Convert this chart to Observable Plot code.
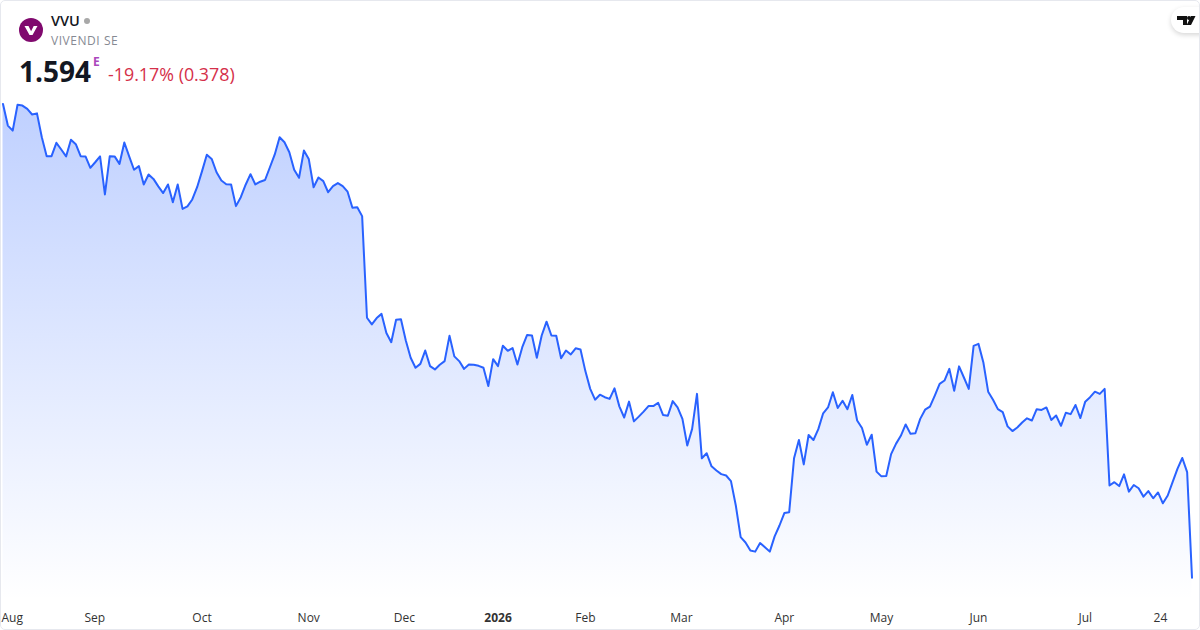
<!DOCTYPE html>
<html>
<head>
<meta charset="utf-8">
<script src="https://cdn.jsdelivr.net/npm/d3@7"></script>
<script src="https://cdn.jsdelivr.net/npm/@observablehq/plot@0.6"></script>
<style>
  html,body{margin:0;padding:0;background:#fff;}
  #card{position:relative;width:1200px;height:630px;box-sizing:border-box;overflow:hidden;font-family:"Open Sans","Noto Sans",sans-serif;}
  #card::after{content:"";position:absolute;inset:0;border:1px solid #e6e8ee;border-radius:5px;pointer-events:none;}
  #chart{position:absolute;left:0;top:0;}
  #chart svg{display:block;}
  .h{position:absolute;white-space:nowrap;line-height:1;}
  #ticker{left:51px;top:13.5px;font-size:14.5px;font-weight:600;color:#131722;}
  #dot{left:84px;top:17.5px;width:6px;height:6px;border-radius:50%;background:#a8a8a8;}
  #name{left:51px;top:34.5px;font-size:12px;color:#868993;letter-spacing:.55px;}
  #price{left:19px;top:57px;font-size:28px;font-weight:700;color:#131722;}
  #flag{left:93px;top:56px;font-size:12px;font-weight:700;color:#ab47bc;}
  #chg{left:108px;top:66px;font-size:17.85px;color:#d5304a;}
  #logo{position:absolute;left:19px;top:18px;}
  #pill{position:absolute;left:1171px;top:7px;width:50px;height:26px;border-radius:13px;background:#fff;box-shadow:0 2px 5px rgba(0,0,0,.16);}
  #tv{position:absolute;left:1177px;top:15px;}
</style>
</head>
<body>
<div id="card">
  <div id="chart"></div>
  <svg id="logo" width="24" height="24" viewBox="0 0 24 24"><circle cx="12" cy="12" r="12" fill="#80096e"/><path d="M5.5 8h4l2.6 5.2L14.700 8h3.800l-5 9h-3z" fill="#fff"/></svg>
  <div class="h" id="ticker">VVU</div>
  <div class="h" id="dot"></div>
  <div class="h" id="name">VIVENDI SE</div>
  <div class="h" id="price">1.594</div>
  <div class="h" id="flag">E</div>
  <div class="h" id="chg">-19.17% (0.378)</div>
  <div id="pill"></div>
  <svg id="tv" width="19" height="11" viewBox="0 0 19 11"><path d="M0 1h10v9H6V5H0zM14 1h4.500L14 10h-4.300z" fill="#111"/><circle cx="12" cy="3" r="2" fill="#111"/></svg>
</div>
<script>
const closes = [
3.300,3.222,3.204,3.297,3.294,3.282,3.262,3.266,3.180,3.112,3.112,3.160,3.136,3.111,3.171,3.155,3.112,3.111,3.070,3.090,
3.111,2.974,3.112,3.111,3.084,3.161,3.111,3.063,3.076,3.010,3.046,3.030,3.003,2.979,3.010,2.946,3.010,2.922,2.931,2.956,
3.000,3.057,3.117,3.102,3.054,3.024,3.011,3.010,2.932,2.964,3.009,3.047,3.010,3.020,3.026,3.072,3.118,3.180,3.162,3.126,
3.063,3.034,
3.132,3.102,3.000,3.035,3.022,2.982,3.004,3.015,3.004,2.984,2.926,2.928,2.896,2.530,2.506,2.529,2.544,2.475,2.442,2.523,
2.525,2.448,2.386,2.350,2.364,2.412,2.356,2.344,2.361,2.374,2.465,2.391,2.374,2.346,2.362,2.361,2.357,2.350,2.284,2.381,
2.356,2.429,2.411,2.421,2.362,2.424,2.468,2.466,2.386,2.466,2.516,2.466,2.465,2.384,2.412,2.398,2.420,2.416,2.338,2.274,
2.235,2.253,
2.244,2.238,2.276,2.211,2.171,2.228,2.157,2.174,2.192,2.212,2.212,2.224,2.180,2.177,2.230,2.207,2.166,2.070,2.130,2.256,
2.024,2.042,1.995,1.980,1.967,1.962,1.942,1.854,1.740,1.721,1.692,1.688,1.719,1.704,1.688,1.743,1.782,1.827,1.830,2.024,
2.090,2.002,2.108,2.090,2.129,2.186,2.207,2.262,2.205,2.231,2.201,2.252,2.160,2.133,2.073,2.109,1.976,1.959,1.960,2.039,
2.076,2.105,
2.146,2.112,2.114,2.166,2.199,2.210,2.250,2.292,2.304,2.346,2.267,2.355,2.315,2.274,2.429,2.436,2.370,2.264,2.235,2.201,
2.190,2.139,2.122,2.135,2.153,2.168,2.160,2.201,2.198,2.207,2.162,2.178,2.141,2.188,2.183,2.216,2.169,2.228,2.244,2.264,
2.256,2.274,1.926,1.938,1.924,1.966,1.904,1.928,1.916,1.886,1.906,1.880,1.901,1.862,1.890,1.938,1.986,2.025,1.974,1.594
];
const tickIndex = [1.9,18.9,41,63,82.7,102,120,139.8,161,181,201,223,238.5];
const tickLabels = ["Aug","Sep","Oct","Nov","Dec","2026","Feb","Mar","Apr","May","Jun","Jul","24"];
const boldTick = "2026";

const rows = closes.map((close, i) => ({i, close}));
const labelOf = new Map(tickIndex.map((t, k) => [t, tickLabels[k]]));
const fmt = t => labelOf.get(t);
const axisStyle = {anchor:"bottom", tickSize:0, tickPadding:13, tickFormat:fmt, fontSize:12, color:"#333", label:null};

const gradient = () => {
  const defs = d3.create("svg:defs");
  const g = defs.append("linearGradient").attr("id","areaFill")
    .attr("gradientUnits","userSpaceOnUse").attr("x1",0).attr("x2",0).attr("y1",100).attr("y2",600);
  g.append("stop").attr("offset",0).attr("stop-color","#2962ff").attr("stop-opacity",0.3);
  g.append("stop").attr("offset",1).attr("stop-color","#2962ff").attr("stop-opacity",0);
  return defs.node();
};

const chart = Plot.plot({
  width:1200, height:630,
  marginLeft:2.5, marginRight:8.5, marginTop:100, marginBottom:30,
  style:{fontFamily:'"Open Sans","Noto Sans",sans-serif', background:"transparent", color:"#333"},
  x:{domain:[0,closes.length-1], axis:null},
  y:{domain:[1.512,3.3123], axis:null},
  marks:[
    gradient,
    Plot.areaY(rows,{x:"i", y1:()=>1.512, y2:"close", fill:"url(#areaFill)"}),
    Plot.lineY(rows,{x:"i", y:"close", stroke:"#2962ff", strokeWidth:2}),
    Plot.axisX(tickIndex.filter(t=>fmt(t)!==boldTick), axisStyle),
    Plot.axisX(tickIndex.filter(t=>fmt(t)===boldTick), {...axisStyle, fontWeight:700})
  ]
});
document.getElementById("chart").append(chart);
</script>
</body>
</html>
